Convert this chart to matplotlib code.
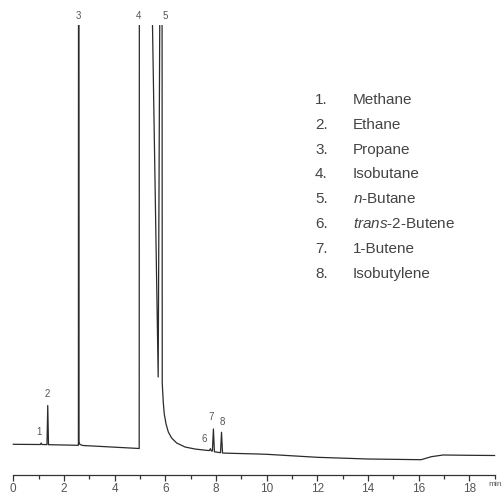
import matplotlib.pyplot as plt
import numpy as np
from matplotlib.ticker import MultipleLocator

plt.rcParams["font.family"] = ["Liberation Sans", "DejaVu Sans"]
plt.rcParams["mathtext.fontset"] = "custom"
plt.rcParams["mathtext.rm"] = "Liberation Sans"
plt.rcParams["mathtext.it"] = "Liberation Sans:italic"

# 色谱图数据 (时间 min, 信号)
times = [0.0, 0.5, 1.0, 1.07, 1.1, 1.13, 1.33, 1.36, 1.39, 2.0, 2.57, 2.58,
         2.595, 2.63, 2.75, 3.5, 4.97, 4.99, 5.2, 5.45, 5.72, 5.80, 5.845,
         5.875, 5.88, 5.92, 5.96, 6.03, 6.12, 6.25, 6.45, 6.78, 7.17, 7.57,
         7.74, 7.78, 7.82, 7.86, 7.9, 7.94, 8.0, 8.18, 8.22, 8.26, 8.35, 8.6,
         9.65, 10.0, 12.0, 14.0, 16.1, 16.5, 16.97, 18.0, 19.0]
signal = [30.7, 30.6, 30.5, 30.5, 32.0, 30.5, 30.4, 69.5, 30.3, 30.0, 29.7, 1200,
          33.0, 30.5, 29.5, 28.5, 26.5, 1500, 1200, 520, 98, 560, 1500,
          400, 92, 73, 61, 51, 43, 37, 32, 28, 26, 24.8,
          24.4, 26.3, 24.1, 24.0, 46.0, 23.2, 23.0, 22.3, 42.7, 22.0, 21.9, 21.7,
          21.0, 20.7, 17.7, 16.0, 15.3, 18.3, 20.0, 19.7, 19.5]

peak_ids = ["1", "2", "3", "4", "5", "6", "7", "8"]
peak_names = ["Methane", "Ethane", "Propane", "Isobutane", r"$\mathit{n}$-Butane",
              r"$\mathit{trans}$-2-Butene", "1-Butene", "Isobutylene"]

# 峰标签位置
label_x = [1.02, 1.36, 2.58, 4.96, 6.0, 7.53, 7.8, 8.24]
label_y = [43, 81, 459, 459, 459, 36, 58, 53]

W, H = 503, 494
fig = plt.figure(figsize=(W / 100, H / 100), dpi=100)
ax = fig.add_axes([0, 0, 1, (H - 25) / H])

ax.plot(times, signal, color="#2b2b2b", lw=0.9)
ax.set_xlim(-13.3 / 25.33, (W - 13.3) / 25.33)
ax.set_ylim(-19, 450)

for s in ["left", "right", "top"]:
    ax.spines[s].set_visible(False)
ax.spines["bottom"].set_position(("data", 0))
ax.spines["bottom"].set_bounds(0, 19)
ax.spines["bottom"].set_color("#333333")
ax.spines["bottom"].set_linewidth(0.9)
ax.set_yticks([])
ax.xaxis.set_major_locator(MultipleLocator(2))
ax.xaxis.set_minor_locator(MultipleLocator(1))
ax.set_xticks(np.arange(0, 19, 2))
ax.tick_params(axis="x", which="both", direction="out", color="#333333",
               width=0.9, labelsize=8.5, labelcolor="#555555", pad=1.5)
ax.tick_params(axis="x", which="major", length=4)
ax.tick_params(axis="x", which="minor", length=3)
fig.text(502 / W, 1 - 484 / H, "min", fontsize=6, color="#555555",
         ha="right", va="center")

for pid, lx, ly in zip(peak_ids, label_x, label_y):
    ax.text(lx, ly, pid, fontsize=7, color="#555555", ha="center", va="center",
            clip_on=False)

# 图例文字
for i, (pid, name) in enumerate(zip(peak_ids, peak_names)):
    yb = 1 - (104 + i * 24.8) / H
    fig.text(315 / W, yb, pid + ".", fontsize=11, color="#444444", va="baseline")
    fig.text(353 / W, yb, name, fontsize=11, color="#444444", va="baseline")

fig.savefig("out.png", dpi=100)
